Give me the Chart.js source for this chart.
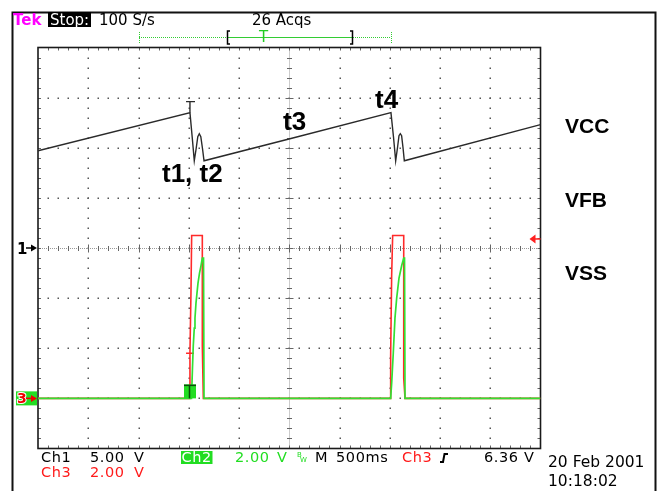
<!DOCTYPE html>
<html>
<head>
<meta charset="utf-8">
<script src="https://cdn.jsdelivr.net/npm/chart.js@4/dist/chart.umd.min.js"></script>
<style>
  html, body { margin: 0; padding: 0; background: #fff; }
  #scope { display: block; }
</style>
</head>
<body>
<canvas id="scope" width="658" height="491"></canvas>
<script>
// horizontal: 10 divisions, 500 ms each
const timePerDiv = 500;
// vertical settings per channel (V/div, ground position in div from centre)
const ch1VoltsPerDiv = 5, ch1Ground = 0;
const ch2VoltsPerDiv = 2, ch2Ground = -3;
const ch3VoltsPerDiv = 2, ch3Ground = -3;
const triggerLevel = 6.36;     // V on Ch3
const ch2TriggerMark = 1512;   // ms, the green T on Ch2

// Ch1 (VCC), ms / V
const ch1Time  = [0, 1512, 1512, 1473, 1562, 1512, 1512, 1534, 1555, 1572, 1590, 1605, 1620, 1637, 1652, 2507, 3512, 3537, 3559, 3577, 3592, 3605, 3618, 3632, 3645, 5000];
const ch1Volts = [9.7, 13.5, 14.6, 14.6, 14.6, 14.6, 13.5, 11.1, 8.7, 9.8, 11.1, 11.4, 11.1, 9.9, 8.7, 10.9, 13.5, 11.1, 8.7, 10.0, 11.2, 11.4, 11.2, 10.0, 8.7, 12.3];

// Ch2 (green)
const ch2Time  = [0, 1527, 1537, 1545, 1555, 1562, 1572, 1582, 1592, 1607, 1622, 1635, 1647, 1652, 3509, 3519, 3535, 3552, 3569, 3592, 3619, 3639, 3647, 3652, 5000];
const ch2Volts = [0, 0, 1.2, 2.1, 2.8, 3.2, 3.8, 4.2, 4.6, 5.0, 5.3, 5.6, 5.6, 0, 0, 0.6, 1.8, 3.2, 4.0, 4.8, 5.3, 5.6, 5.6, 0, 0];

// Ch3 (red)
const ch3Time  = [0, 1512, 1512, 1473, 1552, 1512, 1522, 1529, 1635, 1635, 1645, 3509, 3509, 3519, 3529, 3639, 3639, 3652, 5000];
const ch3Volts = [0, 0, 1.8, 1.8, 1.8, 1.8, 4.2, 6.5, 6.5, 2.1, 0, 0, 1.7, 4.9, 6.5, 6.5, 0.8, 0, 0];

const railLabels = ['VCC', 'VFB', 'VSS'];
const edgeLabels = ['t1, t2', 't3', 't4'];

function toPoints(times, volts, vpd, ground) {
    return times.map((t, i) => ({ x: t, y: ground + volts[i] / vpd }));
}

function seg(ctx, x1, y1, x2, y2) {
    ctx.beginPath(); ctx.moveTo(x1, y1); ctx.lineTo(x2, y2); ctx.stroke();
}

const graticule = {
    id: 'graticule',
    beforeDatasetsDraw(chart) {
        const { ctx, chartArea: a, scales: { x, y } } = chart;
        const px = d => x.getPixelForValue(d * timePerDiv);
        const py = d => y.getPixelForValue(d);
        ctx.save();
        // dotted division lines
        ctx.fillStyle = '#555';
        for (let i = 1; i < 10; i++) {
            if (i === 5) continue;
            const gx = Math.round(px(i));
            for (let k = 1; k < 40; k++) ctx.fillRect(gx - 0.5, Math.round(py(-4 + k * 0.2)) - 0.5, 1.5, 1.5);
        }
        for (let j = -3; j <= 3; j++) {
            if (j === 0) continue;
            const gy = Math.round(py(j));
            for (let k = 1; k < 50; k++) ctx.fillRect(Math.round(px(k * 0.2)) - 0.5, gy - 0.5, 1.5, 1.5);
        }
        // centre cross
        const cx = Math.round(px(5)) + 0.5, cy = Math.round(py(0)) + 0.5;
        ctx.strokeStyle = '#999'; ctx.lineWidth = 1; ctx.setLineDash([1, 1]);
        seg(ctx, a.left, cy, a.right, cy);
        seg(ctx, cx, a.top, cx, a.bottom);
        ctx.setLineDash([]);
        ctx.strokeStyle = '#666';
        for (let k = 1; k < 50; k++) {
            const tx = Math.round(px(k * 0.2)) + 0.5, len = k % 5 === 0 ? 4 : 2.5;
            seg(ctx, tx, cy - len, tx, cy + len);
        }
        for (let k = 1; k < 40; k++) {
            const ty = Math.round(py(-4 + k * 0.2)) + 0.5, len = k % 5 === 0 ? 4 : 2.5;
            seg(ctx, cx - len, ty, cx + len, ty);
        }
        // border ticks
        for (let k = 1; k < 50; k++) {
            const tx = Math.round(px(k * 0.2)) + 0.5;
            seg(ctx, tx, a.top, tx, a.top + 3);
            seg(ctx, tx, a.bottom, tx, a.bottom - 3);
        }
        for (let k = 1; k < 40; k++) {
            const ty = Math.round(py(-4 + k * 0.2)) + 0.5;
            seg(ctx, a.left, ty, a.left + 3, ty);
            seg(ctx, a.right, ty, a.right - 3, ty);
        }
        // border
        ctx.strokeStyle = '#1a1a1a'; ctx.lineWidth = 1.6;
        ctx.strokeRect(a.left, a.top, a.right - a.left, a.bottom - a.top);
        ctx.restore();
    }
};

const scopeText = {
    id: 'scopeText',
    afterDraw(chart) {
        const { ctx, scales: { x, y } } = chart;
        const txt = (s, x0, y0, font, color, spacing) => {
            ctx.font = font; ctx.fillStyle = color; ctx.letterSpacing = spacing || '0px';
            ctx.fillText(s, x0, y0);
        };
        ctx.save();
        ctx.textAlign = 'left'; ctx.textBaseline = 'alphabetic';

        // outer frame
        ctx.strokeStyle = '#111'; ctx.lineWidth = 2;
        ctx.beginPath();
        ctx.moveTo(12.5, 491); ctx.lineTo(12.5, 12.5); ctx.lineTo(655.5, 12.5); ctx.lineTo(655.5, 491);
        ctx.stroke();

        // header
        txt('Tek', 13, 25, 'bold 15px "DejaVu Sans"', '#ff00ff');
        ctx.fillStyle = '#000'; ctx.fillRect(48, 12, 43, 15);
        txt('Stop:', 50, 25, '15px "DejaVu Sans"', '#fff');
        txt('100 S/s', 99, 25, '15px "DejaVu Sans"', '#000');
        txt('26 Acqs', 252, 25, '15px "DejaVu Sans"', '#000');

        // record bar
        ctx.strokeStyle = '#33cc33'; ctx.lineWidth = 1; ctx.setLineDash([1, 1]);
        seg(ctx, 139, 37.5, 227, 37.5); seg(ctx, 353, 37.5, 391, 37.5);
        seg(ctx, 139.5, 32, 139.5, 43); seg(ctx, 391.5, 32, 391.5, 43);
        ctx.setLineDash([]);
        seg(ctx, 228, 37.5, 352, 37.5);
        ctx.strokeStyle = '#000'; ctx.lineWidth = 1.5;
        ctx.beginPath(); ctx.moveTo(230, 31); ctx.lineTo(227.5, 31); ctx.lineTo(227.5, 44); ctx.lineTo(230, 44); ctx.stroke();
        ctx.beginPath(); ctx.moveTo(350, 31); ctx.lineTo(352.5, 31); ctx.lineTo(352.5, 44); ctx.lineTo(350, 44); ctx.stroke();
        txt('T', 259, 42, '15px "DejaVu Sans"', '#22cc22');

        // ground markers
        const arrow = (yy, color) => {
            ctx.strokeStyle = color; ctx.fillStyle = color; ctx.lineWidth = 1.5;
            seg(ctx, 26, yy, 32, yy);
            ctx.beginPath(); ctx.moveTo(31, yy - 3.5); ctx.lineTo(37, yy); ctx.lineTo(31, yy + 3.5); ctx.closePath(); ctx.fill();
        };
        const g1 = y.getPixelForValue(ch1Ground);
        txt('1', 17, g1 + 5.5, 'bold 15px "DejaVu Sans"', '#000');
        arrow(g1, '#000');
        const g3 = y.getPixelForValue(ch3Ground);
        ctx.fillStyle = '#22dd22'; ctx.fillRect(16, g3 - 7, 21, 14);
        ctx.font = 'bold 14px "DejaVu Sans"'; ctx.lineWidth = 2; ctx.strokeStyle = '#fff';
        ctx.strokeText('3', 17, g3 + 5); ctx.fillStyle = '#e00'; ctx.fillText('3', 17, g3 + 5);
        arrow(g3, '#e00');

        // trigger level
        const tl = y.getPixelForValue(ch3Ground + triggerLevel / ch3VoltsPerDiv);
        const rx = chart.chartArea.right;
        ctx.fillStyle = '#ff2020'; ctx.strokeStyle = '#ff2020'; ctx.lineWidth = 1.5;
        ctx.beginPath(); ctx.moveTo(rx - 11, tl); ctx.lineTo(rx - 5, tl - 4.5); ctx.lineTo(rx - 5, tl + 4.5); ctx.closePath(); ctx.fill();
        seg(ctx, rx - 6, tl, rx, tl);

        // green T on Ch2
        const g2 = y.getPixelForValue(ch2Ground);
        const mx = Math.round(x.getPixelForValue(ch2TriggerMark));
        ctx.fillStyle = '#22dd22'; ctx.fillRect(mx - 6, g2 - 14, 12, 14);
        ctx.strokeStyle = '#0b4a0b'; ctx.lineWidth = 1.5;
        seg(ctx, mx - 6, g2 - 13, mx + 6, g2 - 13);
        seg(ctx, mx - 0.5, g2 - 13, mx - 0.5, g2);

        // annotations
        txt(edgeLabels[0], 162, 182, 'bold 26px "Liberation Sans"', '#000');
        txt(edgeLabels[1], 283, 130, 'bold 26px "Liberation Sans"', '#000');
        txt(edgeLabels[2], 375, 108, 'bold 26px "Liberation Sans"', '#000');
        txt(railLabels[0], 565, 133, 'bold 21px "Liberation Sans"', '#000');
        txt(railLabels[1], 565, 207, 'bold 21px "Liberation Sans"', '#000');
        txt(railLabels[2], 565, 280, 'bold 21px "Liberation Sans"', '#000');

        // footer
        const f = '14.5px "DejaVu Sans"', sp = '0.6px';
        const red = '#ff1a1a', green = '#22dd22';
        txt('Ch1', 41, 462, f, '#000', sp);
        txt('5.00', 90, 462, f, '#000', sp); txt('V', 134, 462, f, '#000', sp);
        ctx.fillStyle = green; ctx.fillRect(181, 451, 31.5, 13);
        txt('Ch2', 181.5, 462, f, '#fff', sp);
        txt('2.00', 235, 462, f, green, sp); txt('V', 277, 462, f, green, sp);
        txt('B', 297, 457, '7px "DejaVu Sans"', green);
        txt('W', 300, 462, '7px "DejaVu Sans"', green);
        txt('M', 315, 462, f, '#000', sp);
        txt('500ms', 336, 462, f, '#000', sp);
        txt('Ch3', 402, 462, f, red, sp);
        ctx.strokeStyle = '#000'; ctx.lineWidth = 2;
        ctx.beginPath(); ctx.moveTo(440, 462); ctx.lineTo(443, 462); ctx.lineTo(444.5, 454); ctx.lineTo(448, 454); ctx.stroke();
        txt('6.36', 484, 462, f, '#000', sp); txt('V', 524, 462, f, '#000', sp);
        txt('Ch3', 41, 477, f, red, sp);
        txt('2.00', 90, 477, f, red, sp); txt('V', 134, 477, f, red, sp);
        txt('20 Feb 2001', 548, 467, '15.5px "DejaVu Sans"', '#000');
        txt('10:18:02', 548, 486, '15.5px "DejaVu Sans"', '#000');
        ctx.restore();
    }
};

new Chart(document.getElementById('scope'), {
    type: 'scatter',
    data: {
        datasets: [
            { label: 'Ch2', data: toPoints(ch2Time, ch2Volts, ch2VoltsPerDiv, ch2Ground), borderColor: '#33e033', borderWidth: 1.7, showLine: true, order: 0 },
            { label: 'Ch3', data: toPoints(ch3Time, ch3Volts, ch3VoltsPerDiv, ch3Ground), borderColor: '#ff2a2a', borderWidth: 1.6, showLine: true, order: 1 },
            { label: 'Ch1', data: toPoints(ch1Time, ch1Volts, ch1VoltsPerDiv, ch1Ground), borderColor: '#2a2a2a', borderWidth: 1.4, showLine: true, order: 2 }
        ]
    },
    options: {
        responsive: false,
        animation: false,
        devicePixelRatio: 1,
        layout: { padding: { left: 38, right: 117.5, top: 47.5, bottom: 42.5 } },
        elements: { point: { radius: 0 }, line: { tension: 0 } },
        scales: {
            x: { type: 'linear', min: 0, max: 10 * timePerDiv, display: false },
            y: { type: 'linear', min: -4, max: 4, display: false }
        },
        plugins: { legend: { display: false }, tooltip: { enabled: false } }
    },
    plugins: [graticule, scopeText]
});
</script>
</body>
</html>
